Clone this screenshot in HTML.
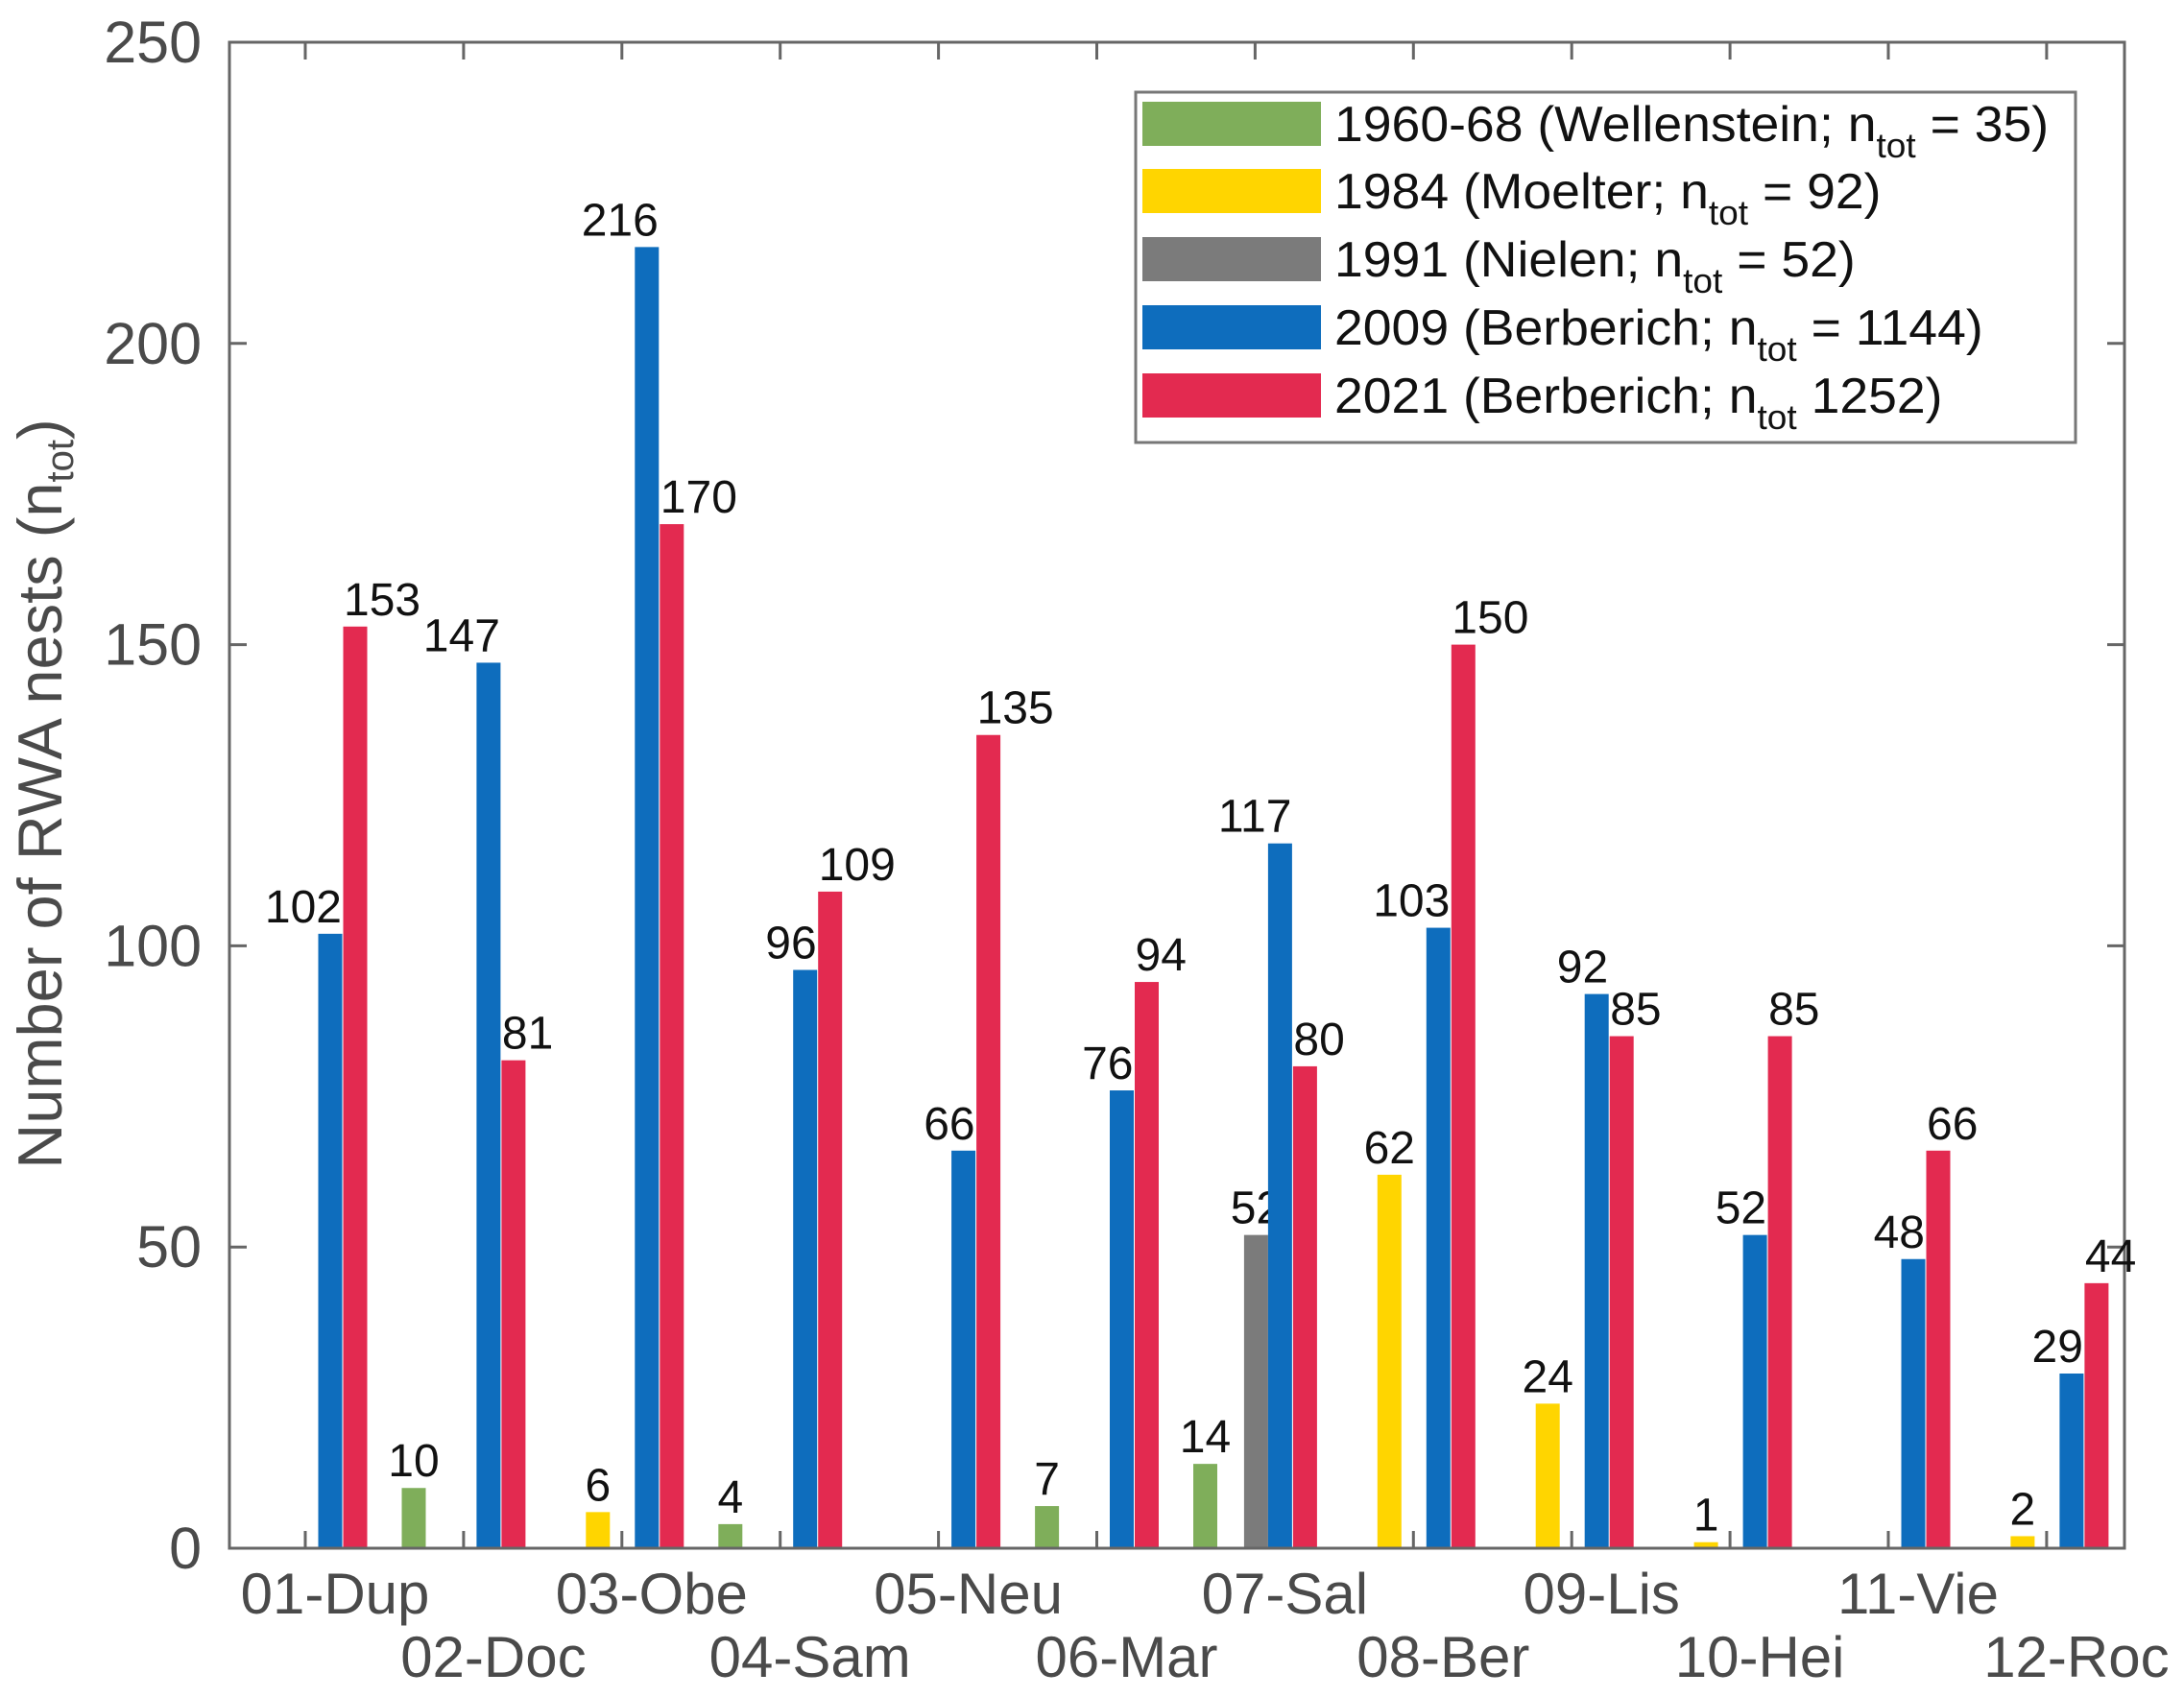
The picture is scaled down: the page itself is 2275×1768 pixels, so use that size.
<!DOCTYPE html>
<html><head><meta charset="utf-8"><style>
html,body{margin:0;padding:0;background:#fff;}
svg{display:block;font-family:"Liberation Sans",Arial,sans-serif;}
</style></head><body>
<svg id="chart" width="2275" height="1768" viewBox="0 0 2275 1768" xmlns="http://www.w3.org/2000/svg">
<rect x="0" y="0" width="2275" height="1768" fill="#fff"/>
<g id="plot"></g>
</svg>
<script>
const categories = ["01-Dup","02-Doc","03-Obe","04-Sam","05-Neu","06-Mar","07-Sal","08-Ber","09-Lis","10-Hei","11-Vie","12-Roc"];
const green1960 = [10,0,4,0,7,14,0,0,0,0,0,0];
const yellow1984 = [0,0,6,0,0,0,0,62,24,1,0,2];
const gray1991 = [0,0,0,0,0,0,52,0,0,0,0,0];
const blue2009 = [102,147,216,96,66,76,117,103,92,52,48,29];
const red2021 = [153,81,170,109,135,94,80,150,85,85,66,44];
const yTicks = [0,50,100,150,200,250];
const legendLabels = ["1960-68 (Wellenstein; n","1984 (Moelter; n","1991 (Nielen; n","2009 (Berberich; n","2021 (Berberich; n"];
const legendTails = [" = 35)"," = 92)"," = 52)"," = 1144)"," 1252)"];

const NS="http://www.w3.org/2000/svg";
const g=document.getElementById('plot');
const L=239,R=2213,T=44,B=1613,YMAX=250;
const y=v=>B-(B-T)*v/YMAX;
const xBlue=i=>344+164.9*i;
function mk(tag,attrs,parent){const e=document.createElementNS(NS,tag);for(const k in attrs)e.setAttribute(k,attrs[k]);(parent||g).appendChild(e);return e;}

const box=mk('rect',{x:L,y:T,width:R-L,height:B-T,fill:'none',stroke:'#666',"stroke-width":3});



yTicks.forEach(v=>{
  const t1=mk('line',{x1:L,x2:L+18,y1:y(v),y2:y(v),stroke:'#666','stroke-width':3});
  
  
  const t2=mk('line',{x1:R,x2:R-18,y1:y(v),y2:y(v),stroke:'#666','stroke-width':3});
  
  
  const lb=mk('text',{x:210,y:y(v)+21,'text-anchor':'end','font-size':61,fill:'#4a4a4a'});
  lb.textContent=v;
  
  
});
categories.forEach((c,i)=>{
  const tx=xBlue(i)-26;
  const a=mk('line',{x1:tx,x2:tx,y1:B,y2:B-18,stroke:'#666','stroke-width':3});
  
  
  const b=mk('line',{x1:tx,x2:tx,y1:T,y2:T+18,stroke:'#666','stroke-width':3});
  
  
  const lb=mk('text',{x:xBlue(i)+5,y:(i%2===0)?1681:1747,'text-anchor':'middle','font-size':60,fill:'#4a4a4a'});
  lb.textContent=c;
  
  
});

const series=[
 {vals:green1960,color:'#7fae5a',off:87,name:'bar-1960-68'},
 {vals:yellow1984,color:'#ffd500',off:-51,name:'bar-1984'},
 {vals:gray1991,color:'#7b7b7b',off:-25,name:'bar-1991'},
 {vals:blue2009,color:'#0e6dbd',off:0,name:'bar-2009'},
 {vals:red2021,color:'#e32a50',off:26,name:'bar-2021'}
];
const BW=25;
series.forEach(s=>{
  s.vals.forEach((v,i)=>{
    if(!v)return;
    const cx=xBlue(i)+s.off;
    const r=mk('rect',{x:cx-BW/2,y:y(v),width:BW,height:B-y(v),fill:s.color});
    
    
    const anchor=(s.off===0)?'end':(s.off===26?'start':'middle');
    const t=mk('text',{x:(s.off===0)?cx+12:(s.off===26?cx-12:cx),y:y(v)-12,'text-anchor':anchor,'font-size':48,fill:'#111'});
    t.textContent=v;
    
    
  });
});
mk('line',{x1:L,x2:R,y1:B,y2:B,stroke:'#666','stroke-width':3});

const yt=mk('text',{x:0,y:0,transform:'translate(64,827) rotate(-90)','text-anchor':'middle','font-size':65,fill:'#4a4a4a'});


yt.innerHTML='Number of RWA nests (n<tspan font-size="40" dy="12">tot</tspan><tspan dy="-12">)</tspan>';

const lg=mk('g',{});


mk('rect',{x:1183,y:96,width:979,height:365,fill:'#fff',stroke:'#777','stroke-width':3},lg);
const rows=[129,199,270,341,412];
series.forEach((s,k)=>{
  const e=mk('g',{},lg);
  
  
  mk('rect',{x:1190,y:rows[k]-23,width:186,height:46,fill:s.color},e);
  const t=mk('text',{x:1390,y:rows[k]+18,'font-size':52,fill:'#111'},e);
  t.innerHTML=legendLabels[k]+'<tspan font-size="36" dy="17">tot</tspan><tspan dy="-17">'+legendTails[k]+'</tspan>';
  t.setAttribute('transform','translate(1390,0) scale(1.03,1) translate(-1390,0)');
});
</script>
</body></html>
